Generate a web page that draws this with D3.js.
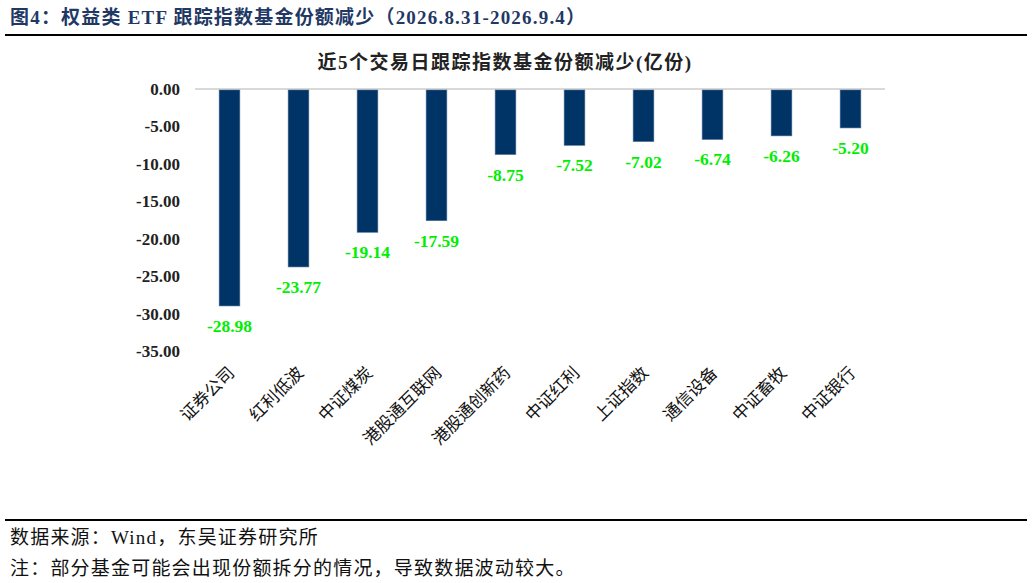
<!DOCTYPE html>
<html><head><meta charset="utf-8">
<script src="https://cdn.jsdelivr.net/npm/d3@7/dist/d3.min.js"></script>
<style>
body{margin:0;background:#fff;}
svg{display:block;}
</style></head>
<body>
<svg id="c" width="1032" height="583"></svg>
<script>
const categories = ["证券公司","红利低波","中证煤炭","港股通互联网","港股通创新药","中证红利","上证指数","通信设备","中证畜牧","中证银行"];
const values = [-28.98,-23.77,-19.14,-17.59,-8.75,-7.52,-7.02,-6.74,-6.26,-5.20];
const yTicks = [0,-5,-10,-15,-20,-25,-30,-35];
const titleText = "图4：权益类 ETF 跟踪指数基金份额减少（2026.8.31-2026.9.4）";
const chartTitle = "近5个交易日跟踪指数基金份额减少(亿份)";
const source = "数据来源：Wind，东吴证券研究所";
const note = "注：部分基金可能会出现份额拆分的情况，导致数据波动较大。";

const svg = d3.select("#c");
const serif = "'Liberation Serif','Times New Roman','Noto Sans CJK SC',serif";
const cjk = "'Liberation Serif','Noto Sans CJK SC',sans-serif";

// header
svg.append("text").attr("x",10).attr("y",24).attr("fill","#1f3864")
  .attr("font-family",cjk).attr("font-weight","bold").attr("font-size",19).attr("letter-spacing",1.2).text(titleText);
svg.append("line").attr("x1",5).attr("x2",1027).attr("y1",35).attr("y2",35)
  .attr("stroke","#000").attr("stroke-width",2);

// chart title
svg.append("text").attr("x",505).attr("y",69).attr("text-anchor","middle").attr("fill","#222")
  .attr("font-family",cjk).attr("font-weight","bold").attr("font-size",19).attr("letter-spacing",1.5).text(chartTitle);

const x = d3.scaleBand().domain(categories).range([195,885]).paddingInner(0.7).paddingOuter(0.35);
const y = d3.scaleLinear().domain([-35,0]).range([351,89]);

// y axis labels
const yAxis = d3.axisLeft(y).tickValues(yTicks).tickFormat(d3.format(".2f")).tickSize(0).tickPadding(0);
const ga = svg.append("g").attr("transform","translate(180,0)").call(yAxis);
ga.select(".domain").remove();
ga.selectAll("text").attr("font-family",serif).attr("font-weight","bold").attr("font-size",17).attr("fill","#222")
  .text(d=> d===0 ? "0.00" : d3.format(".2f")(d).replace("−","-"));

// zero line
svg.append("line").attr("x1",195).attr("x2",885).attr("y1",y(0)).attr("y2",y(0))
  .attr("stroke","#d9d9d9").attr("stroke-width",2);

// bars
svg.append("g").selectAll("rect").data(values).join("rect")
  .attr("x",(d,i)=>x(categories[i])).attr("width",x.bandwidth())
  .attr("y",y(0)+1).attr("height",d=>y(d)-y(0)-1)
  .attr("fill","#003366").attr("stroke","#4a6a90").attr("stroke-width",0.6);

// value labels
svg.append("g").selectAll("text").data(values).join("text")
  .attr("x",(d,i)=>x(categories[i])+x.bandwidth()/2).attr("y",d=>y(d)+26)
  .attr("text-anchor","middle").attr("font-family",serif).attr("font-weight","bold").attr("font-size",17.5)
  .attr("fill","#00ee00").text(d=>d.toFixed(2));

// category labels
svg.append("g").selectAll("text").data(categories).join("text")
  .attr("transform",d=>`translate(${x(d)+x.bandwidth()/2+6},374) rotate(-45)`)
  .attr("text-anchor","end").attr("font-family","'Noto Sans CJK SC',sans-serif").attr("font-size",17)
  .attr("fill","#111").text(d=>d);

// footer
svg.append("line").attr("x1",5).attr("x2",1027).attr("y1",520).attr("y2",520)
  .attr("stroke","#000").attr("stroke-width",2);
svg.append("text").attr("x",10).attr("y",544).attr("font-family",cjk).attr("font-size",19).attr("letter-spacing",1.2).attr("fill","#111").text(source);
svg.append("text").attr("x",10).attr("y",575).attr("font-family",cjk).attr("font-size",19).attr("letter-spacing",1.2).attr("fill","#111").text(note);
</script>
</body></html>
